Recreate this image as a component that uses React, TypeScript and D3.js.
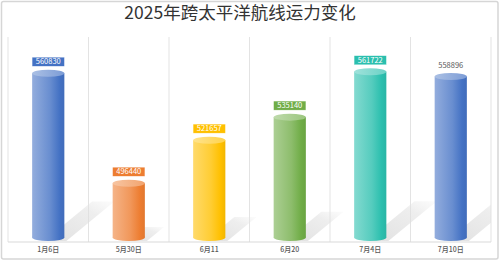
import React from "react";
import * as d3 from "d3";

const categories = ["1月6日", "5月30日", "6月11", "6月20", "7月4日", "7月10日"];
const values = [560830, 496440, 521657, 535140, 561722, 558896];
const barColors = ["#4472c4", "#ed7d31", "#ffc000", "#70ad47", "#2bbfae", "#4472c4"];
const labelBoxed = [true, true, true, true, true, false];
const title = "2025年跨太平洋航线运力变化";

const W = 500;
const H = 261;
const plotLeft = 8;
const plotRight = 491;
const plotTop = 37;
const plotBottom = 242;
const ry = 3.5;
const FONT = "'Noto Sans CJK SC', 'Liberation Sans', sans-serif";

export default function App() {
  const x = d3.scaleBand<string>().domain(categories).range([plotLeft, plotRight]).padding(0);
  const y = d3.scaleLinear().domain([460000, 580000]).range([plotBottom, plotTop]);
  const bw = x.bandwidth() * 0.4;
  const base = plotBottom - 1;
  const boundaries = d3.range(categories.length + 1).map((i) => plotLeft + i * x.bandwidth());

  return (
    <svg width={W} height={H} style={{ position: "absolute", left: 0, top: 0 }} xmlns="http://www.w3.org/2000/svg">
      <defs>
        {barColors.map((c, i) => {
          const light = d3.interpolateRgb(c, "#ffffff")(0.42);
          const lighter = d3.interpolateRgb(c, "#ffffff")(0.55);
          return (
            <React.Fragment key={i}>
              <linearGradient id={`body${i}`} x1="0" y1="0" x2="1" y2="0">
                <stop offset="0" stopColor={light} />
                <stop offset="0.55" stopColor={d3.interpolateRgb(c, "#ffffff")(0.2)} />
                <stop offset="0.85" stopColor={c} />
                <stop offset="1" stopColor={d3.interpolateRgb(c, "#000000")(0.05)} />
              </linearGradient>
              <linearGradient id={`top${i}`} x1="0" y1="0" x2="1" y2="0">
                <stop offset="0" stopColor={lighter} />
                <stop offset="1" stopColor={d3.interpolateRgb(c, "#ffffff")(0.3)} />
              </linearGradient>
            </React.Fragment>
          );
        })}
        <linearGradient id="shadowGrad" x1="0" y1="1" x2="1" y2="0">
          <stop offset="0" stopColor="#d6d6d6" stopOpacity={0.75} />
          <stop offset="0.7" stopColor="#e0e0e0" stopOpacity={0.55} />
          <stop offset="1" stopColor="#e8e8e8" stopOpacity={0.15} />
        </linearGradient>
        <clipPath id="plotClip">
          <rect x={plotLeft} y={plotTop} width={plotRight - plotLeft} height={plotBottom - plotTop} />
        </clipPath>
      </defs>

      <rect x={0} y={0} width={W} height={H} fill="#ffffff" />
      <rect x={1.5} y={1.5} width={W - 3.5} height={H - 3.5} rx={2} fill="#ffffff" stroke="#d6d6d6" strokeWidth={1.5} />

      {/* gridlines */}
      {boundaries.map((bx, i) => (
        <line key={i} x1={bx} x2={bx} y1={plotTop} y2={plotBottom} stroke="#e3e3e3" strokeWidth={1} />
      ))}
      <line x1={plotLeft} x2={plotRight} y1={plotBottom} y2={plotBottom} stroke="#d9d9d9" strokeWidth={1} />

      {/* shadows */}
      <g clipPath="url(#plotClip)">
        {values.map((v, i) => {
          const cx = (x(categories[i]) as number) + x.bandwidth() / 2;
          const x0 = cx - bw / 2;
          const x1 = cx + bw / 2;
          const h = base - y(v);
          const dx = h * 0.28;
          const dy = h * 0.23;
          const pts = [
            [x0 + 12, base],
            [x1 + 2, base],
            [x1 + 2 + dx, base - dy],
            [x0 + 12 + dx, base - dy],
          ];
          return <polygon key={i} points={pts.map((p) => p.join(",")).join(" ")} fill="url(#shadowGrad)" />;
        })}
      </g>

      {/* cylinders */}
      {values.map((v, i) => {
        const cx = (x(categories[i]) as number) + x.bandwidth() / 2;
        const x0 = cx - bw / 2;
        const top = y(v);
        return (
          <g key={i}>
            <ellipse cx={cx} cy={base - ry} rx={bw / 2} ry={ry} fill={`url(#body${i})`} />
            <rect x={x0} y={top + ry} width={bw} height={base - ry - (top + ry)} fill={`url(#body${i})`} />
            <ellipse cx={cx} cy={top + ry} rx={bw / 2} ry={ry} fill={`url(#top${i})`} />
          </g>
        );
      })}

      {/* value labels */}
      {values.map((v, i) => {
        const cx = (x(categories[i]) as number) + x.bandwidth() / 2;
        const top = y(v);
        const boxH = 9;
        const boxBottom = top - 3.5;
        return (
          <g key={i}>
            {labelBoxed[i] && (
              <rect x={cx - bw / 2} y={boxBottom - boxH} width={bw} height={boxH} fill={barColors[i]} stroke="#ffffff" strokeOpacity={0.5} strokeWidth={0.5} />
            )}
            <text
              x={cx}
              y={boxBottom - boxH / 2}
              dy="0.35em"
              textAnchor="middle"
              fontFamily={FONT}
              fontSize={7.5}
              fill={labelBoxed[i] ? "#ffffff" : "#595959"}
            >
              {v}
            </text>
          </g>
        );
      })}

      {/* category labels */}
      {categories.map((c) => (
        <text
          key={c}
          x={(x(c) as number) + x.bandwidth() / 2}
          y={250}
          dy="0.35em"
          textAnchor="middle"
          fontFamily={FONT}
          fontSize={7}
          fontWeight={500}
          fill="#595959"
        >
          {c}
        </text>
      ))}

      {/* title */}
      <text x={240} y={13} dy="0.35em" textAnchor="middle" fontFamily={FONT} fontSize={17.5} fontWeight={400} fill="#333333">
        {title}
      </text>
    </svg>
  );
}
